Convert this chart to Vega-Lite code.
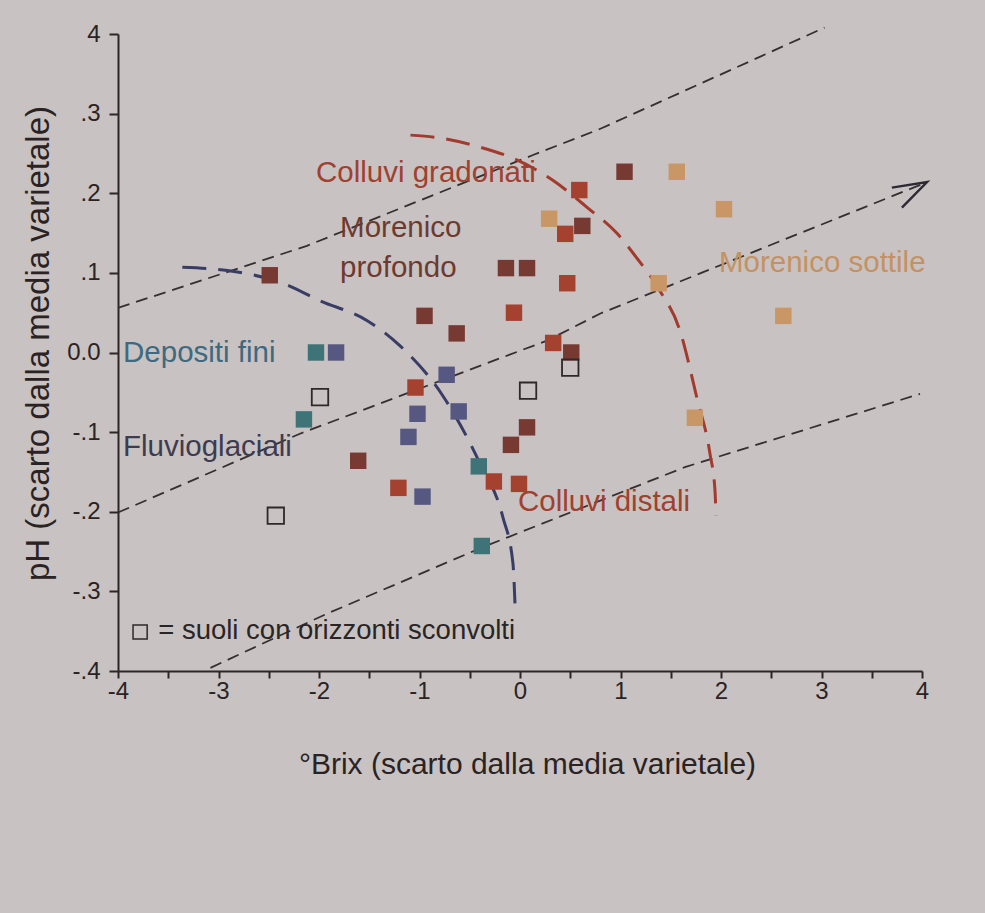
{
  "$schema": "https://vega.github.io/schema/vega-lite/v6.json",
  "width": 804,
  "height": 637,
  "autosize": {"type": "none"},
  "padding": {"left": 118, "top": 34, "right": 63, "bottom": 242},
  "background": "#c8c2c2",
  "config": {
    "view": {"stroke": null},
    "font": "Liberation Sans",
    "axis": {
      "domainColor": "#2e2626", "domainWidth": 2,
      "tickColor": "#2e2626", "tickWidth": 2,
      "labelColor": "#2b2323", "labelFont": "Liberation Sans", "labelFontSize": 24,
      "labelFlush": false,
      "titleColor": "#2b2323", "titleFont": "Liberation Sans", "titleFontWeight": "normal",
      "grid": false
    }
  },
  "datasets": {
    "pts": [
      {"x": -2.49, "y": 0.097, "g": "Morenico profondo"},
      {"x": -2.03, "y": 0.0, "g": "Depositi fini"},
      {"x": -1.83, "y": 0.0, "g": "Fluvioglaciali"},
      {"x": -2.15, "y": -0.084, "g": "Depositi fini"},
      {"x": -0.95, "y": 0.046, "g": "Morenico profondo"},
      {"x": -0.63, "y": 0.024, "g": "Morenico profondo"},
      {"x": -0.73, "y": -0.028, "g": "Fluvioglaciali"},
      {"x": -1.04, "y": -0.044, "g": "Colluvi"},
      {"x": -1.02, "y": -0.077, "g": "Fluvioglaciali"},
      {"x": -0.61, "y": -0.074, "g": "Fluvioglaciali"},
      {"x": -1.11, "y": -0.106, "g": "Fluvioglaciali"},
      {"x": -1.61, "y": -0.136, "g": "Morenico profondo"},
      {"x": -1.21, "y": -0.170, "g": "Colluvi"},
      {"x": -0.97, "y": -0.181, "g": "Fluvioglaciali"},
      {"x": -0.41, "y": -0.143, "g": "Depositi fini"},
      {"x": -0.26, "y": -0.162, "g": "Colluvi"},
      {"x": -0.01, "y": -0.165, "g": "Colluvi"},
      {"x": -0.38, "y": -0.243, "g": "Depositi fini"},
      {"x": -0.09, "y": -0.116, "g": "Morenico profondo"},
      {"x": 0.07, "y": -0.094, "g": "Morenico profondo"},
      {"x": -0.06, "y": 0.050, "g": "Colluvi"},
      {"x": -0.14, "y": 0.106, "g": "Morenico profondo"},
      {"x": 0.07, "y": 0.106, "g": "Morenico profondo"},
      {"x": 0.33, "y": 0.012, "g": "Colluvi"},
      {"x": 0.51, "y": 0.0, "g": "Morenico profondo"},
      {"x": 0.29, "y": 0.168, "g": "Morenico sottile"},
      {"x": 0.45, "y": 0.149, "g": "Colluvi"},
      {"x": 0.62, "y": 0.159, "g": "Morenico profondo"},
      {"x": 0.59, "y": 0.204, "g": "Colluvi"},
      {"x": 0.47, "y": 0.087, "g": "Colluvi"},
      {"x": 1.04, "y": 0.227, "g": "Morenico profondo"},
      {"x": 1.56, "y": 0.227, "g": "Morenico sottile"},
      {"x": 2.03, "y": 0.180, "g": "Morenico sottile"},
      {"x": 1.38, "y": 0.087, "g": "Morenico sottile"},
      {"x": 2.62, "y": 0.046, "g": "Morenico sottile"},
      {"x": 1.74, "y": -0.082, "g": "Morenico sottile"}
    ],
    "open": [
      {"x": -1.99, "y": -0.056},
      {"x": -2.43, "y": -0.205},
      {"x": 0.08, "y": -0.048},
      {"x": 0.50, "y": -0.019}
    ],
    "thin": [
      {"line": "L1", "o": 1, "x": -4.0, "y": 0.056},
      {"line": "L1", "o": 2, "x": -2.12, "y": 0.134},
      {"line": "L1", "o": 3, "x": 0.13, "y": 0.248},
      {"line": "L1", "o": 4, "x": 0.80, "y": 0.281},
      {"line": "L1", "o": 5, "x": 3.03, "y": 0.408},
      {"line": "L2", "o": 1, "x": -4.0, "y": -0.201},
      {"line": "L2", "o": 2, "x": -2.19, "y": -0.102},
      {"line": "L2", "o": 3, "x": 0.27, "y": 0.015},
      {"line": "L2", "o": 4, "x": 0.80, "y": 0.049},
      {"line": "L2", "o": 5, "x": 4.05, "y": 0.214},
      {"line": "L3", "o": 1, "x": -3.08, "y": -0.396},
      {"line": "L3", "o": 2, "x": -1.92, "y": -0.328},
      {"line": "L3", "o": 3, "x": -0.38, "y": -0.245},
      {"line": "L3", "o": 4, "x": 1.64, "y": -0.144},
      {"line": "L3", "o": 5, "x": 3.98, "y": -0.052}
    ],
    "arrow": [
      {"o": 1, "x": 3.70, "y": 0.207},
      {"o": 2, "x": 4.05, "y": 0.214},
      {"o": 3, "x": 3.80, "y": 0.182}
    ],
    "blue": [
      {"o": 1, "x": -3.36, "y": 0.107},
      {"o": 2, "x": -2.86, "y": 0.102},
      {"o": 3, "x": -2.36, "y": 0.087},
      {"o": 4, "x": -1.99, "y": 0.065},
      {"o": 5, "x": -1.52, "y": 0.040},
      {"o": 6, "x": -1.19, "y": 0.008},
      {"o": 7, "x": -0.77, "y": -0.054},
      {"o": 8, "x": -0.40, "y": -0.139},
      {"o": 9, "x": -0.17, "y": -0.207},
      {"o": 10, "x": -0.07, "y": -0.265},
      {"o": 11, "x": -0.05, "y": -0.315}
    ],
    "red": [
      {"o": 1, "x": -1.09, "y": 0.273},
      {"o": 2, "x": -0.77, "y": 0.269},
      {"o": 3, "x": -0.40, "y": 0.258},
      {"o": 4, "x": -0.07, "y": 0.244},
      {"o": 5, "x": 0.33, "y": 0.216},
      {"o": 6, "x": 0.67, "y": 0.182},
      {"o": 7, "x": 0.97, "y": 0.149},
      {"o": 8, "x": 1.16, "y": 0.119},
      {"o": 9, "x": 1.39, "y": 0.078},
      {"o": 10, "x": 1.59, "y": 0.028},
      {"o": 11, "x": 1.76, "y": -0.057},
      {"o": 12, "x": 1.89, "y": -0.127},
      {"o": 13, "x": 1.94, "y": -0.173},
      {"o": 14, "x": 1.95, "y": -0.205}
    ],
    "labels": [
      {"t": "Colluvi gradonati", "g": "Colluvi", "x": -2.03, "y": 0.226},
      {"t": "Morenico", "g": "Morenico profondo", "x": -1.79, "y": 0.156},
      {"t": "profondo", "g": "Morenico profondo", "x": -1.79, "y": 0.106},
      {"t": "Morenico sottile", "g": "Morenico sottile", "x": 1.98, "y": 0.112},
      {"t": "Depositi fini", "g": "Depositi fini", "x": -3.95, "y": 0.0},
      {"t": "Fluvioglaciali", "g": "Fluvioglaciali", "x": -3.95, "y": -0.119},
      {"t": "Colluvi distali", "g": "Colluvi", "x": -0.02, "y": -0.188}
    ],
    "legend": [
      {"t": "= suoli con orizzonti sconvolti", "x": -3.6, "y": -0.35}
    ],
    "legendmark": [
      {"x": -3.78, "y": -0.351}
    ]
  },
  "layer": [
    {
      "data": {"name": "thin"},
      "mark": {"type": "line", "color": "#352f2f", "strokeWidth": 1.8, "strokeDash": [12, 7]},
      "encoding": {
        "x": {"field": "x", "type": "quantitative", "scale": {"domain": [-4, 4], "nice": false, "zero": false},
          "axis": {
            "values": [-4, -3.5, -3, -2.5, -2, -1.5, -1, -0.5, 0, 0.5, 1, 1.5, 2, 2.5, 3, 3.5, 4],
            "labelExpr": "round(datum.value*2) % 2 != 0 ? '' : (datum.value < 0 ? '-' : '') + toString(abs(round(datum.value)))",
            "tickSize": 7, "labelPadding": 1,
            "title": "°Brix (scarto dalla media varietale)",
            "titleFontSize": 30, "titleX": 409, "titleY": 93, "titleAlign": "center", "titleBaseline": "middle", "titleAnchor": null
          }},
        "y": {"field": "y", "type": "quantitative", "scale": {"domain": [-0.4, 0.4], "nice": false, "zero": false},
          "axis": {
            "values": [-0.4, -0.35, -0.3, -0.25, -0.2, -0.15, -0.1, -0.05, 0, 0.05, 0.1, 0.15, 0.2, 0.25, 0.3, 0.35, 0.4],
            "labelExpr": "round(datum.value*20) % 2 != 0 ? '' : (round(datum.value*10) == 0 ? '0.0' : (round(datum.value*10) == 4 ? '4' : (datum.value < 0 ? '-' : '') + '.' + toString(abs(round(datum.value*10)))))",
            "tickSize": 9, "labelPadding": 9,
            "title": "pH (scarto dalla media varietale)",
            "titleFontSize": 33, "titleX": -80, "titleY": 309, "titleAngle": -90, "titleAlign": "center", "titleBaseline": "middle", "titleAnchor": null
          }},
        "detail": {"field": "line"},
        "order": {"field": "o"}
      }
    },
    {
      "data": {"name": "arrow"},
      "mark": {"type": "line", "color": "#2e2a33", "strokeWidth": 2.4},
      "encoding": {
        "x": {"field": "x", "type": "quantitative"},
        "y": {"field": "y", "type": "quantitative"},
        "order": {"field": "o"}
      }
    },
    {
      "data": {"name": "blue"},
      "mark": {"type": "line", "color": "#393d66", "strokeWidth": 3, "strokeDash": [24, 12], "interpolate": "monotone"},
      "encoding": {
        "x": {"field": "x", "type": "quantitative"},
        "y": {"field": "y", "type": "quantitative"},
        "order": {"field": "o"}
      }
    },
    {
      "data": {"name": "red"},
      "mark": {"type": "line", "color": "#a23a2e", "strokeWidth": 3, "strokeDash": [24, 12], "interpolate": "monotone"},
      "encoding": {
        "x": {"field": "x", "type": "quantitative"},
        "y": {"field": "y", "type": "quantitative"},
        "order": {"field": "o"}
      }
    },
    {
      "data": {"name": "pts"},
      "mark": {"type": "point", "shape": "square", "filled": true, "size": 270, "opacity": 1},
      "encoding": {
        "x": {"field": "x", "type": "quantitative"},
        "y": {"field": "y", "type": "quantitative"},
        "color": {"field": "g", "type": "nominal", "legend": null,
          "scale": {"domain": ["Morenico profondo", "Colluvi", "Morenico sottile", "Depositi fini", "Fluvioglaciali"],
                    "range": ["#763a33", "#a4412f", "#c99766", "#3e7378", "#575882"]}}
      }
    },
    {
      "data": {"name": "open"},
      "mark": {"type": "point", "shape": "square", "filled": false, "size": 270, "stroke": "#2f2828", "strokeWidth": 1.8, "opacity": 1},
      "encoding": {
        "x": {"field": "x", "type": "quantitative"},
        "y": {"field": "y", "type": "quantitative"}
      }
    },
    {
      "data": {"name": "legendmark"},
      "mark": {"type": "point", "shape": "square", "filled": false, "size": 200, "stroke": "#2f2828", "strokeWidth": 1.5, "opacity": 1},
      "encoding": {
        "x": {"field": "x", "type": "quantitative"},
        "y": {"field": "y", "type": "quantitative"}
      }
    },
    {
      "data": {"name": "labels"},
      "mark": {"type": "text", "align": "left", "baseline": "middle", "fontSize": 29.5, "font": "Liberation Sans"},
      "encoding": {
        "x": {"field": "x", "type": "quantitative"},
        "y": {"field": "y", "type": "quantitative"},
        "text": {"field": "t"},
        "color": {"field": "g", "type": "nominal", "legend": null,
          "scale": {"domain": ["Morenico profondo", "Colluvi", "Morenico sottile", "Depositi fini", "Fluvioglaciali"],
                    "range": ["#6e3a30", "#a0402f", "#c49262", "#3d6a80", "#3d3b4f"]}}
      }
    },
    {
      "data": {"name": "legend"},
      "mark": {"type": "text", "align": "left", "baseline": "middle", "fontSize": 27.5, "font": "Liberation Sans", "color": "#2a2525"},
      "encoding": {
        "x": {"field": "x", "type": "quantitative"},
        "y": {"field": "y", "type": "quantitative"},
        "text": {"field": "t"}
      }
    }
  ],
  "resolve": {"scale": {"color": "independent"}}
}
